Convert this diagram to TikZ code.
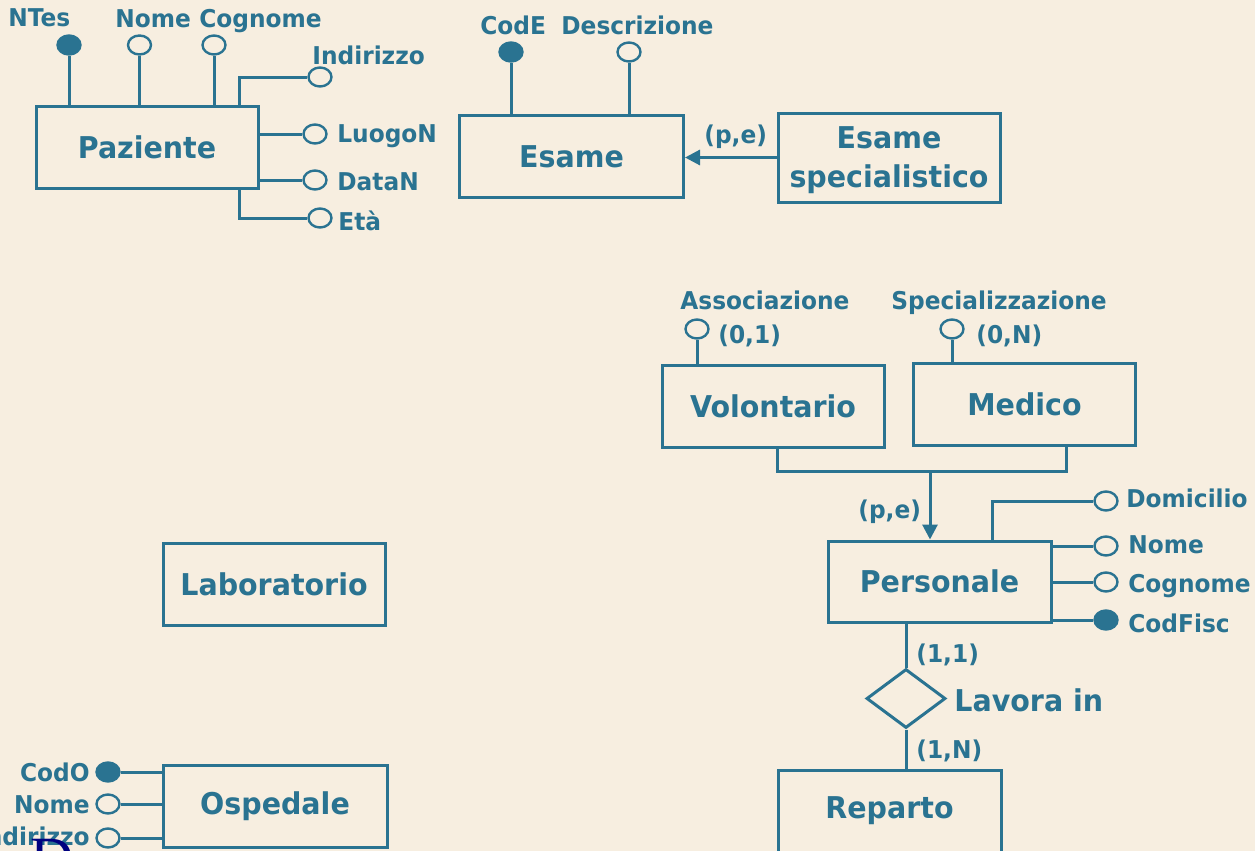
\documentclass[tikz,border=0pt]{standalone}
\usepackage{fontspec}
\setmainfont{DejaVu Sans}[FakeStretch=0.95]
\newfontfamily\serifD{Liberation Serif}
\usetikzlibrary{shapes.geometric,arrows.meta}
\definecolor{er}{HTML}{2A7391}
\definecolor{bg}{HTML}{F7EEE0}
\definecolor{navyD}{HTML}{000080}
\newcommand{\lowtext}[1]{\raisebox{-1.5pt}[\height][\depth]{#1}}
\begin{document}
\begin{tikzpicture}[x=0.5pt,y=-0.5pt,
  ent/.style={draw=er, line width=1.5pt, minimum width=111pt, minimum height=41pt, inner sep=0pt,
    font=\fontsize{15}{17.5}\selectfont\bfseries, text=er, align=center},
  attr/.style={ellipse, draw=er, line width=1.2pt, minimum width=11.5pt, minimum height=9.5pt, inner sep=0pt, fill=bg},
  keyattr/.style={attr, fill=er},
  lbl/.style={text=er, font=\fontsize{12.25}{14}\selectfont\bfseries, inner sep=0pt, anchor=base west},
  lble/.style={lbl, anchor=base east},
  conn/.style={draw=er, line width=1.5pt},
  arr/.style={conn, -{Triangle[length=7.5pt,width=7.5pt]}},
  rel/.style={diamond, draw=er, line width=1.5pt, minimum width=39.5pt, minimum height=29.5pt, inner sep=0pt}]
\useasboundingbox (0,0) rectangle (1255,851);
\fill[bg] (0,0) rectangle (1255,851);
\clip (0,0) rectangle (1255,851);

% ---------- Paziente ----------
\node[ent] (pz) at (147,147) {Paziente};
\node[keyattr] (pNTes) at (69,45) {};
\node[attr] (pNome) at (139.5,45) {};
\node[attr] (pCogn) at (214,45) {};
\node[attr] (pInd) at (320,77) {};
\node[attr] (pLuo) at (315,134) {};
\node[attr] (pData) at (315,180) {};
\node[attr] (pEta) at (320,218) {};
\coordinate (pzI) at (239,106);
\coordinate (pzE) at (239,188);
\draw[conn] (pNTes) -- (pNTes |- pz.north);
\draw[conn] (pNome) -- (pNome |- pz.north);
\draw[conn] (pCogn) -- (pCogn |- pz.north);
\draw[conn] (pInd) -| (pzI);
\draw[conn] (pLuo) -- (pLuo -| pz.east);
\draw[conn] (pData) -- (pData -| pz.east);
\draw[conn] (pEta) -| (pzE);
\node[lbl] (tNTes) at (8,26) {NTes};
\node[lbl] (tNome) at (115,27) {Nome};
\node[lbl] (tCogn) at (199,27) {Cognome};
\node[lbl] (tInd) at (312,64) {Indirizzo};
\node[lbl] (tLuo) at (337,142) {LuogoN};
\node[lbl] (tData) at (337,190) {DataN};
\node[lbl] (tEta) at (338,230) {Età};

% ---------- Esame ----------
\node[ent, minimum width=112pt] (ex) at (571.5,156.5) {Esame};
\node[ent, minimum height=44.5pt, font=\fontsize{15}{19.5}\selectfont\bfseries] (es) at (889,157.5) {\lowtext{Esame}\\\lowtext{specialistico}};
\node[keyattr] (eCod) at (511,52) {};
\node[attr] (eDesc) at (629,52) {};
\draw[conn] (eCod) -- (eCod |- ex.north);
\draw[conn] (eDesc) -- (eDesc |- ex.north);
\draw[arr] (es.west) -- (es.west -| ex.east);
\node[lbl] (tCodE) at (480,34) {CodE};
\node[lbl] (tDesc) at (561,34) {Descrizione};
\node[lbl] (tPe1) at (704,143) {(p,e)};

% ---------- Volontario / Medico ----------
\node[ent] (vo) at (773,406) {Volontario};
\node[ent] (me) at (1024.5,404) {Medico};
\node[attr] (vAss) at (697,329) {};
\node[attr] (mSpe) at (952,329) {};
\draw[conn] (vAss) -- (vAss |- vo.north);
\draw[conn] (mSpe) -- (mSpe |- me.north);
\node[lbl] (tAss) at (680,309) {Associazione};
\node[lbl] (tC01) at (718,343) {(0,1)};
\node[lbl] (tSpe) at (891,309) {Specializzazione};
\node[lbl] (tC0N) at (976,343) {(0,N)};

% ---------- Personale ----------
\node[ent, minimum width=111.5pt, minimum height=40.5pt] (pe) at (939.5,581.5) {Personale};
\coordinate (gv) at (777,471);
\coordinate (gm) at (1066,471);
\coordinate (gp) at (930,471);
\draw[conn] (vo.south -| gv) -- (gv) -- (gm) -- (me.south -| gm);
\draw[arr] (gp) -- (gp |- pe.north);
\node[lbl] (tPe2) at (858,518) {(p,e)};
\node[attr] (peDom) at (1106,501) {};
\node[attr] (peNome) at (1106,546) {};
\node[attr] (peCogn) at (1106,582) {};
\node[keyattr] (peCF) at (1106,620) {};
\coordinate (peD) at (992,541);
\draw[conn] (peDom) -| (peD);
\draw[conn] (peNome) -- (peNome -| pe.east);
\draw[conn] (peCogn) -- (peCogn -| pe.east);
\draw[conn] (peCF) -- (peCF -| pe.east);
\node[lbl] (tDom) at (1126,507) {Domicilio};
\node[lbl] (tPNome) at (1128,553) {Nome};
\node[lbl] (tPCogn) at (1128,592) {Cognome};
\node[lbl] (tCF) at (1128,632) {CodFisc};

% ---------- Lavora in / Reparto ----------
\node[rel] (lv) at (906,698.5) {};
\node[ent, minimum width=111.5pt] (re) at (889.5,811) {Reparto};
\draw[conn] (lv.north |- pe.south) -- (lv.north);
\draw[conn] (lv.south) -- (lv.south |- re.north);
\node[lbl] (tC11) at (916,662) {(1,1)};
\node[lbl, font=\fontsize{15}{17}\selectfont\bfseries] (tLav) at (954,711) {Lavora in};
\node[lbl] (tC1N) at (916,758) {(1,N)};

% ---------- Laboratorio ----------
\node[ent] (la) at (274,584.5) {Laboratorio};

% ---------- Ospedale ----------
\node[ent, minimum width=112pt] (os) at (275,806) {Ospedale};
\node[keyattr] (oCod) at (108,772) {};
\node[attr] (oNome) at (108,804) {};
\node[attr] (oInd) at (108,838) {};
\draw[conn] (oCod) -- (oCod -| os.west);
\draw[conn] (oNome) -- (oNome -| os.west);
\draw[conn] (oInd) -- (oInd -| os.west);
\node[lble] (tCodO) at (90,781) {CodO};
\node[lble] (tONome) at (90,813) {Nome};
\node[lble] (tOInd) at (90,845) {Indirizzo};

% ---------- partial title glyph ----------
\node[anchor=north west, inner sep=0pt, text=navyD, font=\serifD\fontsize{30}{30}\selectfont] (dD) at (30,839) {D};
\end{tikzpicture}
\end{document}
